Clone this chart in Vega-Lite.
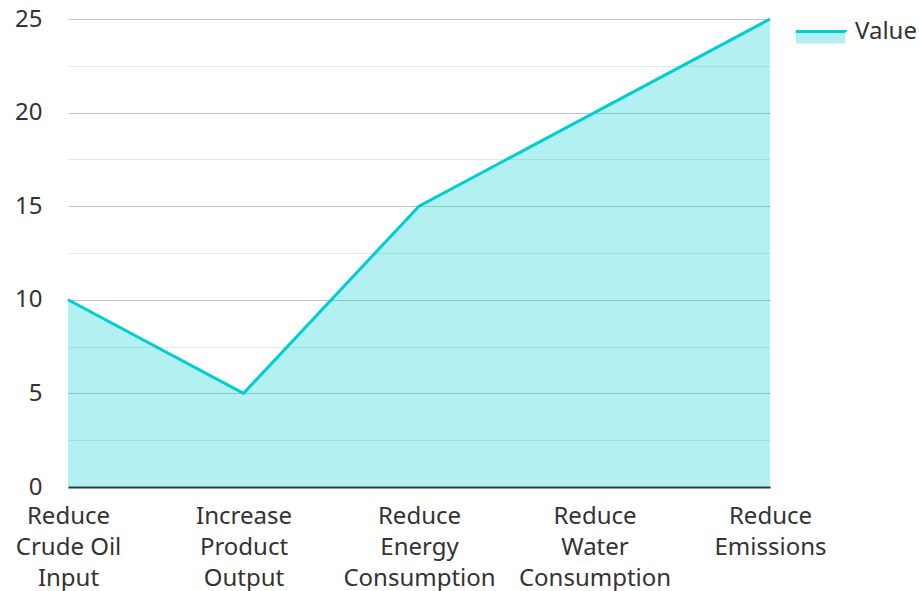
{
  "$schema": "https://vega.github.io/schema/vega-lite/v6.json",
  "width": 702,
  "height": 468,
  "autosize": {"type": "none"},
  "padding": {"left": 68, "top": 19, "right": 149, "bottom": 104},
  "config": {
    "view": {"stroke": null},
    "font": "Noto Sans",
    "axis": {"labelFont": "Noto Sans", "labelColor": "#333333", "labelFontSize": 24}
  },
  "data": {
    "values": [
      {"category": "Reduce Crude Oil Input", "value": 10},
      {"category": "Increase Product Output", "value": 5},
      {"category": "Reduce Energy Consumption", "value": 15},
      {"category": "Reduce Water Consumption", "value": 20},
      {"category": "Reduce Emissions", "value": 25}
    ]
  },
  "encoding": {
    "x": {
      "field": "category",
      "type": "nominal",
      "sort": null,
      "scale": {"type": "point", "padding": 0},
      "axis": {
        "title": null,
        "labelAngle": 0,
        "domainColor": "#333333",
        "domainWidth": 2,
        "ticks": false,
        "grid": false,
        "labelPadding": 17,
        "labelBaseline": "top",
        "labelLineHeight": 31,
        "labelExpr": "datum.label == 'Reduce Crude Oil Input' ? ['Reduce', 'Crude Oil', 'Input'] : datum.label == 'Increase Product Output' ? ['Increase', 'Product', 'Output'] : datum.label == 'Reduce Energy Consumption' ? ['Reduce', 'Energy', 'Consumption'] : datum.label == 'Reduce Water Consumption' ? ['Reduce', 'Water', 'Consumption'] : ['Reduce', 'Emissions']"
      }
    },
    "y": {
      "field": "value",
      "type": "quantitative",
      "scale": {"domain": [0, 25], "nice": false},
      "axis": {
        "title": null,
        "domain": false,
        "ticks": false,
        "values": [0, 2.5, 5, 7.5, 10, 12.5, 15, 17.5, 20, 22.5, 25],
        "labelExpr": "datum.value % 5 === 0 ? datum.label : ''",
        "gridColor": {"condition": {"test": "datum.value % 5 === 0", "value": "#c0c0c0"}, "value": "#e6e6e6"},
        "gridWidth": 1.2,
        "labelPadding": 26
      }
    }
  },
  "layer": [
    {
      "mark": {"type": "area", "color": "#00CED1", "opacity": 0.3}
    },
    {
      "mark": {"type": "line", "strokeWidth": 3},
      "encoding": {
        "stroke": {
          "datum": "Value",
          "scale": {"range": ["#00CED1"]},
          "legend": {
            "title": null,
            "orient": "none",
            "legendX": 726,
            "legendY": -14,
            "padding": 0,
            "symbolType": "M-1,0 L1,0 L1,0.48 L-1,0.48 Z",
            "symbolSize": 2450,
            "symbolStrokeWidth": 3,
            "labelFontSize": 24,
            "labelColor": "#333333",
            "labelFont": "Noto Sans",
            "labelOffset": 8,
            "encode": {
              "symbols": {
                "update": {
                  "fill": {"value": "#b2efee"},
                  "fillOpacity": {"value": 1},
                  "strokeDash": {"value": [50, 1000]}
                }
              }
            }
          }
        }
      }
    }
  ]
}
